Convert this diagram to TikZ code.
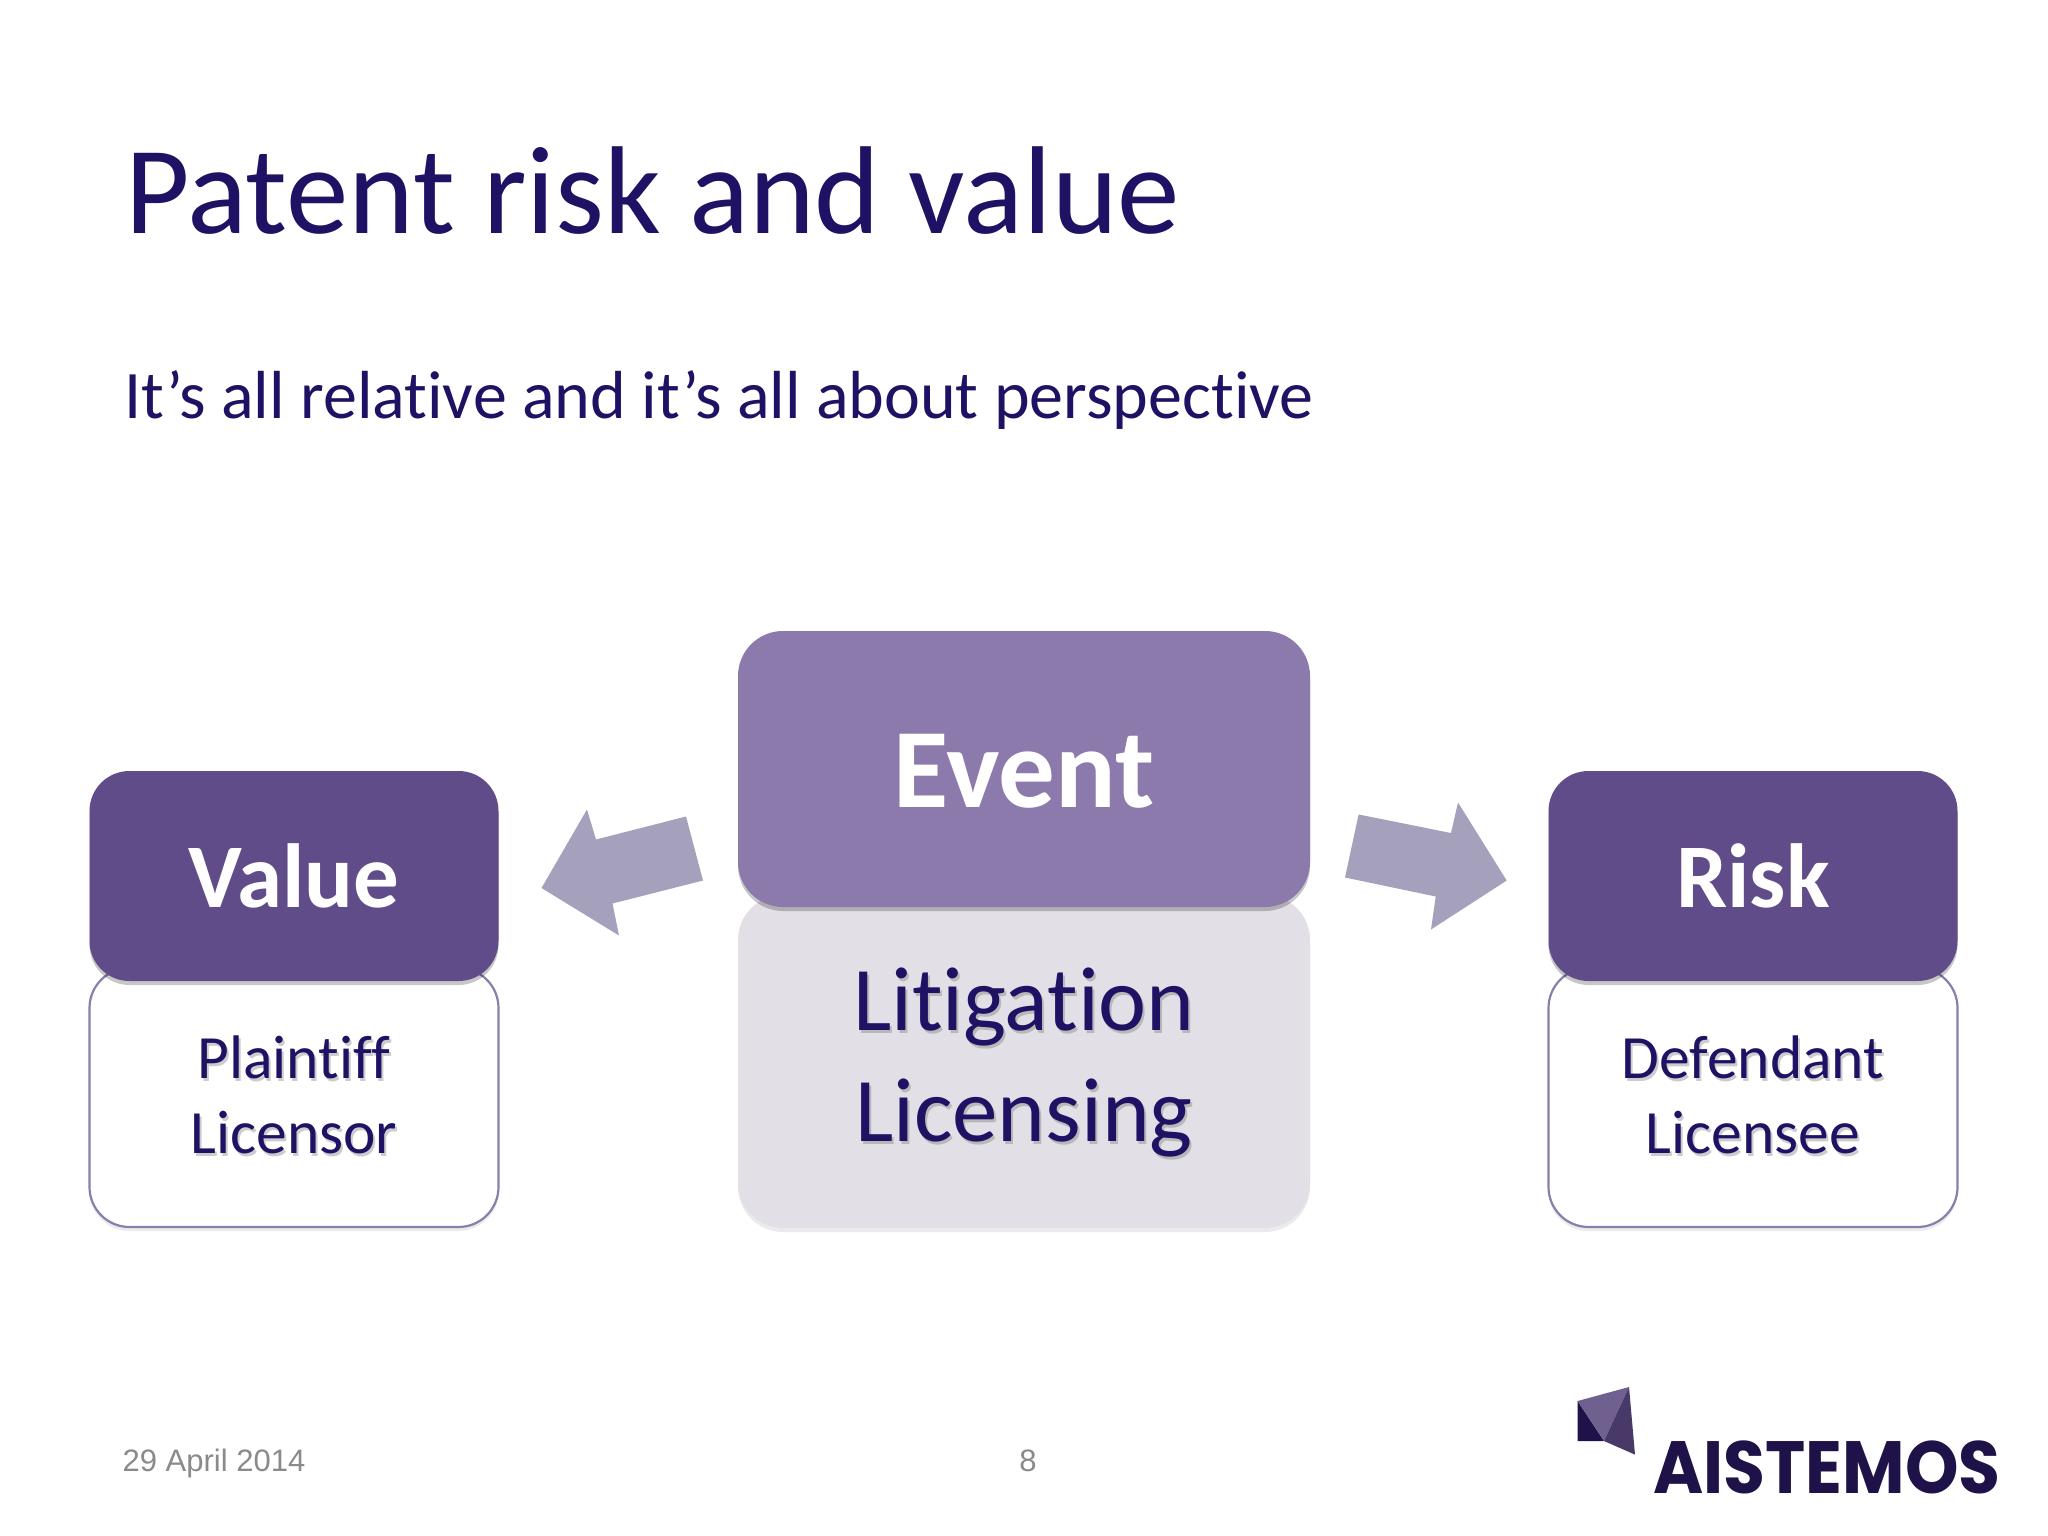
\documentclass[tikz,border=0pt]{standalone}
\usepackage{fontspec}
\setmainfont[Ligatures=NoCommon]{Carlito}
\newfontfamily\footfont{Liberation Sans}
\newfontfamily\logofont{Poppins}
\usetikzlibrary{%
  shadows%
}
\definecolor{inkblue}{HTML}{1F1264}
\definecolor{darkbox}{HTML}{614C8A}
\definecolor{midbox}{HTML}{8B7AAB}
\definecolor{palebox}{HTML}{E2DFE6}
\definecolor{edgebox}{HTML}{8580AC}
\definecolor{arrowfill}{HTML}{A5A0BC}
\definecolor{footgray}{HTML}{8A8A8A}
\definecolor{logoink}{HTML}{1E1248}
\newcommand{\softtext}[2]{\makebox[0pt][l]{\hspace{2pt}\raisebox{-3pt}{\color{#1}#2}}#2}
\tikzset{
  softdrop/.style={drop shadow={shadow xshift=0pt,shadow yshift=-4pt,opacity=.22,fill=black}},
  headbox/.style={rounded corners=40pt,inner sep=0pt,text=white,softdrop},
  sidehead/.style={headbox,fill=darkbox,minimum width=409pt,minimum height=210pt,font=\fontsize{91}{100}\selectfont\bfseries},
  midhead/.style={headbox,fill=midbox,rounded corners=45pt,minimum width=572pt,minimum height=276pt,font=\fontsize{113}{120}\selectfont\bfseries},
  sidebody/.style={draw=edgebox,line width=2.2pt,fill=white,rounded corners=40pt,minimum width=409pt,minimum height=259pt,inner sep=0pt,drop shadow={shadow xshift=0pt,shadow yshift=-4pt,opacity=.08,fill=black}},
  midbody/.style={fill=palebox,rounded corners=45pt,minimum width=572pt,minimum height=333pt,inner sep=0pt,drop shadow={shadow xshift=0pt,shadow yshift=-4pt,opacity=.08,fill=black}},
  sidetext/.style={text=inkblue,align=center,inner sep=0pt,font=\fontsize{61.5}{75}\selectfont},
  midtext/.style={text=inkblue,align=center,inner sep=0pt,font=\fontsize{91}{111}\selectfont},
  blockarrow/.style={fill=arrowfill,draw=none},
  foottext/.style={text=footgray,inner sep=0pt,anchor=base,font=\footfont\fontsize{31}{36}\selectfont}
}
\begin{document}
\begin{tikzpicture}[x=1pt,y=-1pt]
\useasboundingbox (0,0) rectangle (2048,1536);
\fill[white] (0,0) rectangle (2048,1536);
\node[anchor=base west,inner sep=0pt,text=inkblue,font=\fontsize{125}{130}\selectfont] (title) at (125,233) {Patent risk and value};
\node[anchor=base west,inner sep=0pt,text=inkblue,font=\fontsize{68}{74}\selectfont] (subtitle) at (124,418) {It’s all relative and it’s all about perspective};
% boxes
\node[sidebody] (plaintiffbox) at (294,1097.5) {};
\node[sidehead] (value) at (294,876) {Value};
\node[midbody] (eventbody) at (1024,1061.5) {};
\node[midhead,text depth=0pt] (event) at (1024,769) {\raisebox{-3pt}{Event}};
\node[sidebody] (defendantbox) at (1753,1097.5) {};
\node[sidehead] (risk) at (1753,876) {Risk};
\node[sidetext] (plaintiff) at (294,1096) {\softtext{black!20}{Plaintiff}\\\softtext{black!20}{Licensor}};
\node[midtext] (litigation) at (1024,1064) {\softtext{black!28}{Litigation}\\\softtext{black!28}{Licensing}};
\node[sidetext] (defendant) at (1753,1096) {\softtext{black!20}{Defendant}\\\softtext{black!20}{Licensee}};
% arrows
\fill[blockarrow] (541.5,888) -- (587,809.5) -- (596,839.5) -- (686,816.5) -- (703,880.5) -- (612.5,903.5) -- (619,935.5) -- cycle;
\fill[blockarrow] (1358.6,814.5) -- (1451,833) -- (1458,802.5) -- (1506.7,880.5) -- (1431,929.5) -- (1435.7,896.5) -- (1345,877.5) -- cycle;
% footer
\node[foottext] (date) at (214,1471) {29 April 2014};
\node[foottext] (pagenum) at (1028,1471) {8};
% logo
\fill[logoink] (1577.6,1401) -- (1604,1441) -- (1577.6,1441) -- cycle;
\fill[black!10!darkbox!85!white] (1577.6,1401) -- (1629,1387) -- (1604,1441) -- cycle;
\fill[darkbox!75!black] (1629,1387) -- (1635,1454.6) -- (1604,1441) -- cycle;
\node[anchor=base,inner sep=0pt,xscale=.92,text=logoink,font=\logofont\fontsize{74}{80}\selectfont\bfseries] (logo) at (1827,1493) {AISTEMOS};
\end{tikzpicture}
\end{document}
